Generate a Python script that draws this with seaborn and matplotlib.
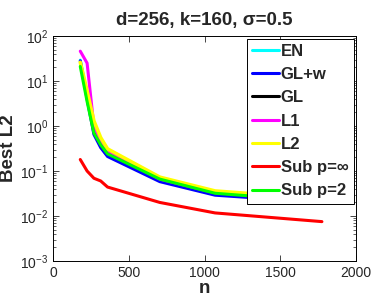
import numpy as np
import pandas as pd
import seaborn as sns
import matplotlib
matplotlib.use("Agg")
import matplotlib.pyplot as plt
from matplotlib.ticker import LogLocator, FixedLocator, NullFormatter

# ---- data ----
n_vals = [180, 225, 270, 315, 360, 705, 1070, 1775]
en     = [29.0, 5.0, 0.80, 0.40, 0.23, 0.062, 0.031, 0.021]
glw    = [28.0, 4.0, 0.65, 0.33, 0.21, 0.058, 0.029, 0.020]
gl     = [25.0, 4.0, 0.75, 0.40, 0.25, 0.065, 0.032, 0.021]
l1     = [46.0, 25.0, 1.00, 0.45, 0.27, 0.066, 0.033, 0.022]
l2     = [26.0, 6.0, 1.30, 0.55, 0.31, 0.073, 0.036, 0.024]
sub_inf = [0.18, 0.10, 0.069, 0.060, 0.044, 0.020, 0.0117, 0.0075]
sub_2  = [21.0, 3.5, 0.70, 0.38, 0.24, 0.066, 0.032, 0.021]

series_names = ["EN", "GL+w", "GL", "L1", "L2", "Sub p=\u221e", "Sub p=2"]
series_vals = [en, glw, gl, l1, l2, sub_inf, sub_2]
colors = ["#00ffff", "#0000ff", "#000000", "#ff00ff", "#ffff00", "#ff0000", "#00ff00"]
widths = [2.2, 2.2, 1.2, 2.2, 2.6, 2.2, 2.2]

rows = []
for name, vals in zip(series_names, series_vals):
    for n, v in zip(n_vals, vals):
        rows.append({"n": n, "val": v, "method": name})
df = pd.DataFrame(rows)

sns.set_style("ticks")
plt.rcParams["font.family"] = ["Liberation Sans", "DejaVu Sans"]
plt.rcParams["mathtext.default"] = "regular"

fig = plt.figure(figsize=(3.74, 2.98), dpi=100)
ax = fig.add_axes([53/374, 1-261/298, (356-53)/374, (261-36)/298])

for name, c, lw in zip(series_names, colors, widths):
    sub = df[df["method"] == name]
    sns.lineplot(data=sub, x="n", y="val", ax=ax, color=c, lw=lw, label=name,
                 estimator=None, sort=False)

ax.set_yscale("log")
ax.set_xlim(0, 2000)
ax.set_ylim(1e-3, 1e2)
ax.xaxis.set_major_locator(FixedLocator([0, 500, 1000, 1500, 2000]))
ax.yaxis.set_major_locator(LogLocator(base=10, numticks=10))
ax.yaxis.set_minor_locator(LogLocator(base=10, subs=np.arange(2, 10), numticks=20))
ax.yaxis.set_minor_formatter(NullFormatter())
ax.tick_params(which="both", direction="in", top=True, right=True, labelsize=10)
ax.tick_params(which="major", length=4, width=0.6)
ax.tick_params(which="minor", length=2, width=0.5)
for s in ax.spines.values():
    s.set_linewidth(0.7)
    s.set_color("black")

ax.set_xlabel("n", fontsize=13.5, fontweight="bold", labelpad=0)
ax.set_ylabel("Best L2", fontsize=13.5, fontweight="bold", labelpad=2)
ax.set_title("d=256, k=160, \u03c3=0.5", fontsize=13.5, fontweight="bold", pad=8,
             family=["Liberation Sans", "DejaVu Sans"])

leg = ax.legend(loc="upper right", frameon=True, fancybox=False, edgecolor="black",
                prop={"weight": "bold", "size": 12}, handlelength=1.65,
                handletextpad=0.1, labelspacing=0.5, borderpad=0.3,
                borderaxespad=0.15, framealpha=1)
leg.get_frame().set_linewidth(0.7)
for line in leg.get_lines():
    line.set_linewidth(2.2)

fig.savefig("out.png", dpi=100)
